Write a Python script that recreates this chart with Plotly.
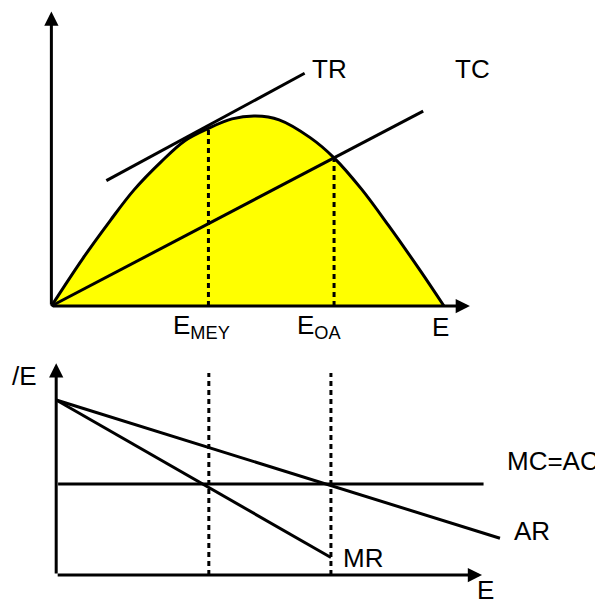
import plotly.graph_objects as go

# ---------------- data (top panel: total revenue / total cost vs effort) ----------------
E_TR = [0, 0.8, 1.5, 2.1, 2.8, 3.4, 4.0, 4.6, 5.2, 5.8, 6.6, 7.2, 7.9, 8.6, 9.4, 10.0]
TR = [0, 2.5, 4.5, 6.1, 7.6, 8.7, 9.35, 9.85, 10.0, 9.8, 8.85, 7.8, 6.15, 4.2, 1.85, 0]
TC_E = [0, 9.47]
TC = [0, 10.26]
TANGENT_E = [1.4, 6.45]
TANGENT = [6.6, 12.25]
E_MEY = 4.0
E_OA = 7.2
TR_AT_MEY = 9.35
TR_AT_OA = 7.8
TOP_E_MAX = 10.66
TOP_Y_MAX = 15.5

# ---------------- data (bottom panel: per-unit-effort values) ----------------
AR_E = [0, 11.63]
AR = [10, 2.1]
MR_E = [0, 7.2]
MR = [10, 1.0]
MC_E = [0.05, 11.2]
MC = [5.2, 5.2]
BOT_DOT_TOP = 11.55
BOT_E_MAX = 11.16
BOT_Y_MAX = 12.1

FONT = dict(family="Liberation Sans, Arial, sans-serif", size=26, color="black")
LW = 3
DOT = "5px,4px"

fig = go.Figure()

# TR curve with yellow fill
fig.add_trace(go.Scatter(x=E_TR, y=TR, mode="lines", line=dict(color="black", width=LW, shape="spline"),
                         fill="tozeroy", fillcolor="#FFFF00", xaxis="x", yaxis="y", hoverinfo="skip"))
# TC
fig.add_trace(go.Scatter(x=TC_E, y=TC, mode="lines", line=dict(color="black", width=LW),
                         xaxis="x", yaxis="y", hoverinfo="skip"))
# tangent
fig.add_trace(go.Scatter(x=TANGENT_E, y=TANGENT, mode="lines", line=dict(color="black", width=LW),
                         xaxis="x", yaxis="y", hoverinfo="skip"))
# dotted verticals top
fig.add_trace(go.Scatter(x=[E_MEY, E_MEY], y=[0, TR_AT_MEY], mode="lines",
                         line=dict(color="black", width=LW, dash=DOT), xaxis="x", yaxis="y", hoverinfo="skip"))
fig.add_trace(go.Scatter(x=[E_OA, E_OA], y=[0, TR_AT_OA], mode="lines",
                         line=dict(color="black", width=LW, dash=DOT), xaxis="x", yaxis="y", hoverinfo="skip"))

# bottom panel
fig.add_trace(go.Scatter(x=AR_E, y=AR, mode="lines", line=dict(color="black", width=LW),
                         xaxis="x2", yaxis="y2", hoverinfo="skip"))
fig.add_trace(go.Scatter(x=MR_E, y=MR, mode="lines", line=dict(color="black", width=LW),
                         xaxis="x2", yaxis="y2", hoverinfo="skip"))
fig.add_trace(go.Scatter(x=MC_E, y=MC, mode="lines", line=dict(color="black", width=LW),
                         xaxis="x2", yaxis="y2", hoverinfo="skip"))
fig.add_trace(go.Scatter(x=[E_MEY, E_MEY], y=[0, BOT_DOT_TOP], mode="lines",
                         line=dict(color="black", width=LW, dash=DOT), xaxis="x2", yaxis="y2", hoverinfo="skip"))
fig.add_trace(go.Scatter(x=[E_OA, E_OA], y=[0, BOT_DOT_TOP], mode="lines",
                         line=dict(color="black", width=LW, dash=DOT), xaxis="x2", yaxis="y2", hoverinfo="skip"))

ann = []


def arrow(xr, yr, x0, y0, x1, y1):
    return dict(xref=xr, yref=yr, axref=xr, ayref=yr, x=x1, y=y1, ax=x0, ay=y0, text="",
                showarrow=True, arrowhead=2, arrowsize=0.95, arrowwidth=LW, arrowcolor="black")


ann += [arrow("x", "y", 0, 0, 0, TOP_Y_MAX), arrow("x", "y", 0, 0, TOP_E_MAX, 0),
        arrow("x2", "y2", 0, 0, 0, BOT_Y_MAX), arrow("x2", "y2", 0, 0, BOT_E_MAX, 0)]


def label(xr, yr, x, y, t):
    return dict(xref=xr, yref=yr, x=x, y=y, text=t, showarrow=False, xanchor="left",
                yanchor="middle", font=FONT, borderpad=0)


ann += [
    label("x", "y", 6.6, 12.45, "TR"),
    label("x", "y", 10.26, 12.45, "TC"),
    label("x", "y", 3.08, -1.1, "E<sub>MEY</sub>"),
    label("x", "y", 6.24, -1.1, "E<sub>OA</sub>"),
    label("x", "y", 9.68, -1.1, "E"),
    label("x2", "y2", -1.18, 11.35, "/E"),
    label("x2", "y2", 11.8, 6.5, "MC=AC"),
    label("x2", "y2", 11.96, 2.5, "AR"),
    label("x2", "y2", 7.48, 1.0, "MR"),
    label("x2", "y2", 11.01, -0.85, "E"),
]

ax_common = dict(visible=False, showgrid=False, zeroline=False, domain=[0, 1])
fig.update_layout(
    width=595, height=596, margin=dict(l=0, r=0, t=0, b=0, pad=0),
    paper_bgcolor="white", plot_bgcolor="rgba(0,0,0,0)", showlegend=False,
    xaxis=dict(ax_common, range=[-1.105, 14.05], anchor="y"),
    yaxis=dict(ax_common, range=[-15.68, 15.684], anchor="x"),
    xaxis2=dict(ax_common, range=[-1.263, 14.33], anchor="y2"),
    yaxis2=dict(ax_common, range=[-1.657, 32.4], anchor="x2"),
    annotations=ann,
)

fig.write_html("out.html")
